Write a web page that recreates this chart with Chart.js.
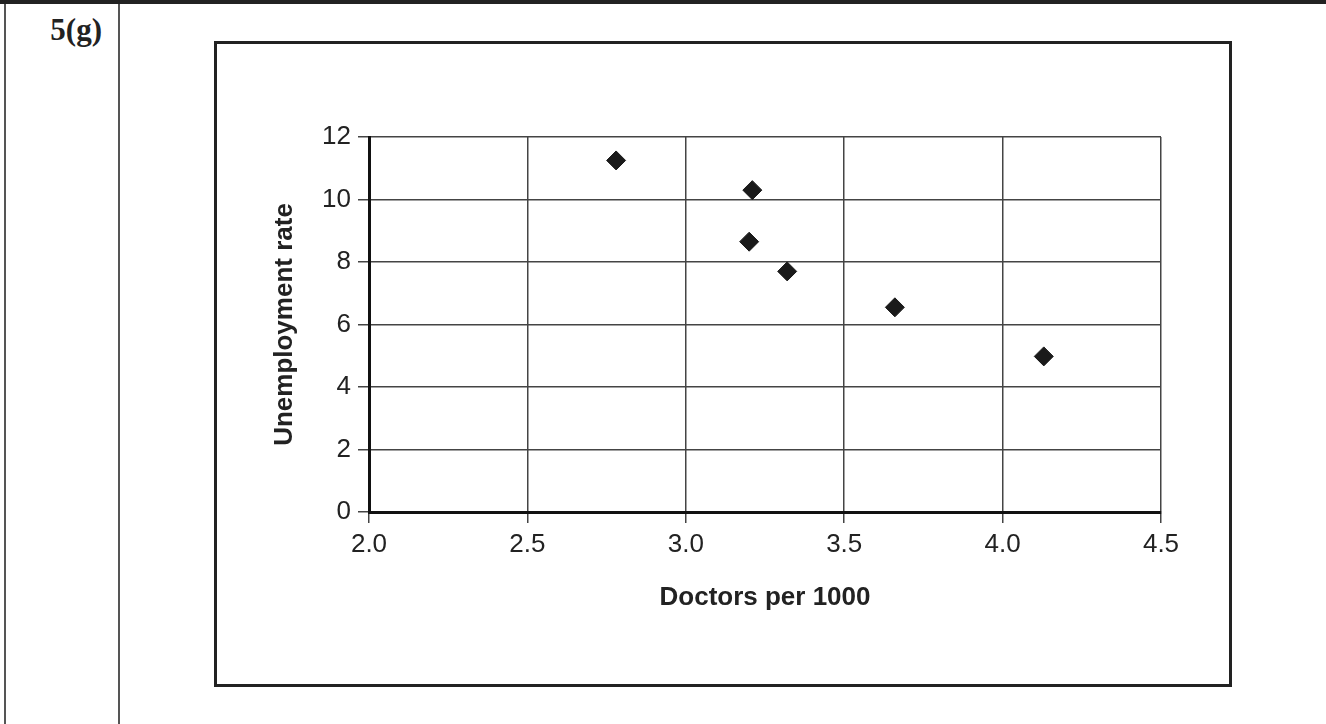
<!DOCTYPE html>
<html lang="en">
<head>
    <meta charset="UTF-8">
    <script src="https://cdn.jsdelivr.net/npm/chart.js"></script>
    <title>5(g) Doctors vs Unemployment</title>
    <style>
        body {
            margin: 0;
            width: 1326px;
            height: 724px;
            background: #fff;
            position: relative;
            overflow: hidden;
        }
        .top-rule {
            position: absolute;
            left: 0; top: 0;
            width: 1326px; height: 4px;
            background: #222;
        }
        .col-line {
            position: absolute;
            top: 4px; bottom: 0;
            width: 1.5px;
            background: #555;
        }
        .label {
            position: absolute;
            right: calc(1326px - 102px);
            top: 12px;
            font: bold 31px "Liberation Serif", "Times New Roman", serif;
            color: #222;
        }
        .chart-box {
            position: absolute;
            left: 214px; top: 41px;
            width: 1012px; height: 640px;
            border: 3px solid #222;
        }
    </style>
</head>
<body>
    <div class="top-rule"></div>
    <div class="col-line" style="left: 4px;"></div>
    <div class="col-line" style="left: 118px;"></div>
    <div class="label">5(g)</div>
    <div class="chart-box">
        <canvas id="scatterChart" width="1012" height="640"></canvas>
    </div>
    <script>
        // values
        const doctors = [2.78, 3.21, 3.20, 3.32, 3.66, 4.13];
        const unemployment = [11.25, 10.3, 8.65, 7.7, 6.55, 4.98];
        const xTitle = 'Doctors per 1000';
        const yTitle = 'Unemployment rate';

        const points = doctors.map((d, i) => ({ x: d, y: unemployment[i] }));

        const fontFamily = '"Liberation Sans", Arial, sans-serif';
        const gridColor = '#444';

        const ctx = document.getElementById('scatterChart').getContext('2d');
        const scatterChart = new Chart(ctx, {
            type: 'scatter',
            data: {
                datasets: [{
                    data: points,
                    pointStyle: 'rectRot',
                    pointRadius: 9.5,
                    pointHoverRadius: 9.5,
                    backgroundColor: '#1a1a1a',
                    borderColor: '#1a1a1a',
                    borderWidth: 1
                }]
            },
            options: {
                responsive: false,
                animation: false,
                devicePixelRatio: 1,
                layout: {
                    padding: { left: 0, top: 93, right: 68, bottom: 0 }
                },
                plugins: {
                    legend: { display: false },
                    tooltip: { enabled: false }
                },
                scales: {
                    x: {
                        type: 'linear',
                        min: 2,
                        max: 4.5,
                        afterFit: function (scale) { scale.height = 172; },
                        ticks: {
                            stepSize: 0.5,
                            padding: 6,
                            color: '#222',
                            font: { family: fontFamily, size: 26 },
                            callback: function (v) { return v.toFixed(1); },
                            maxRotation: 0
                        },
                        grid: {
                            color: gridColor,
                            lineWidth: 1.5,
                            tickLength: 11
                        },
                        border: { color: '#111', width: 3 },
                        title: {
                            display: true,
                            text: xTitle,
                            color: '#222',
                            font: { family: fontFamily, size: 26, weight: 'bold' },
                            padding: { top: 0, bottom: 71 }
                        }
                    },
                    y: {
                        min: 0,
                        max: 12,
                        afterFit: function (scale) { scale.width = 152; },
                        ticks: {
                            stepSize: 2,
                            padding: 7,
                            color: '#222',
                            font: { family: fontFamily, size: 26 }
                        },
                        grid: {
                            color: gridColor,
                            lineWidth: 1.5,
                            tickLength: 11
                        },
                        border: { color: '#111', width: 3 },
                        title: {
                            display: true,
                            text: yTitle,
                            color: '#222',
                            font: { family: fontFamily, size: 26, weight: 'bold' },
                            padding: { top: 52, bottom: 0 }
                        }
                    }
                }
            }
        });
    </script>
</body>
</html>
